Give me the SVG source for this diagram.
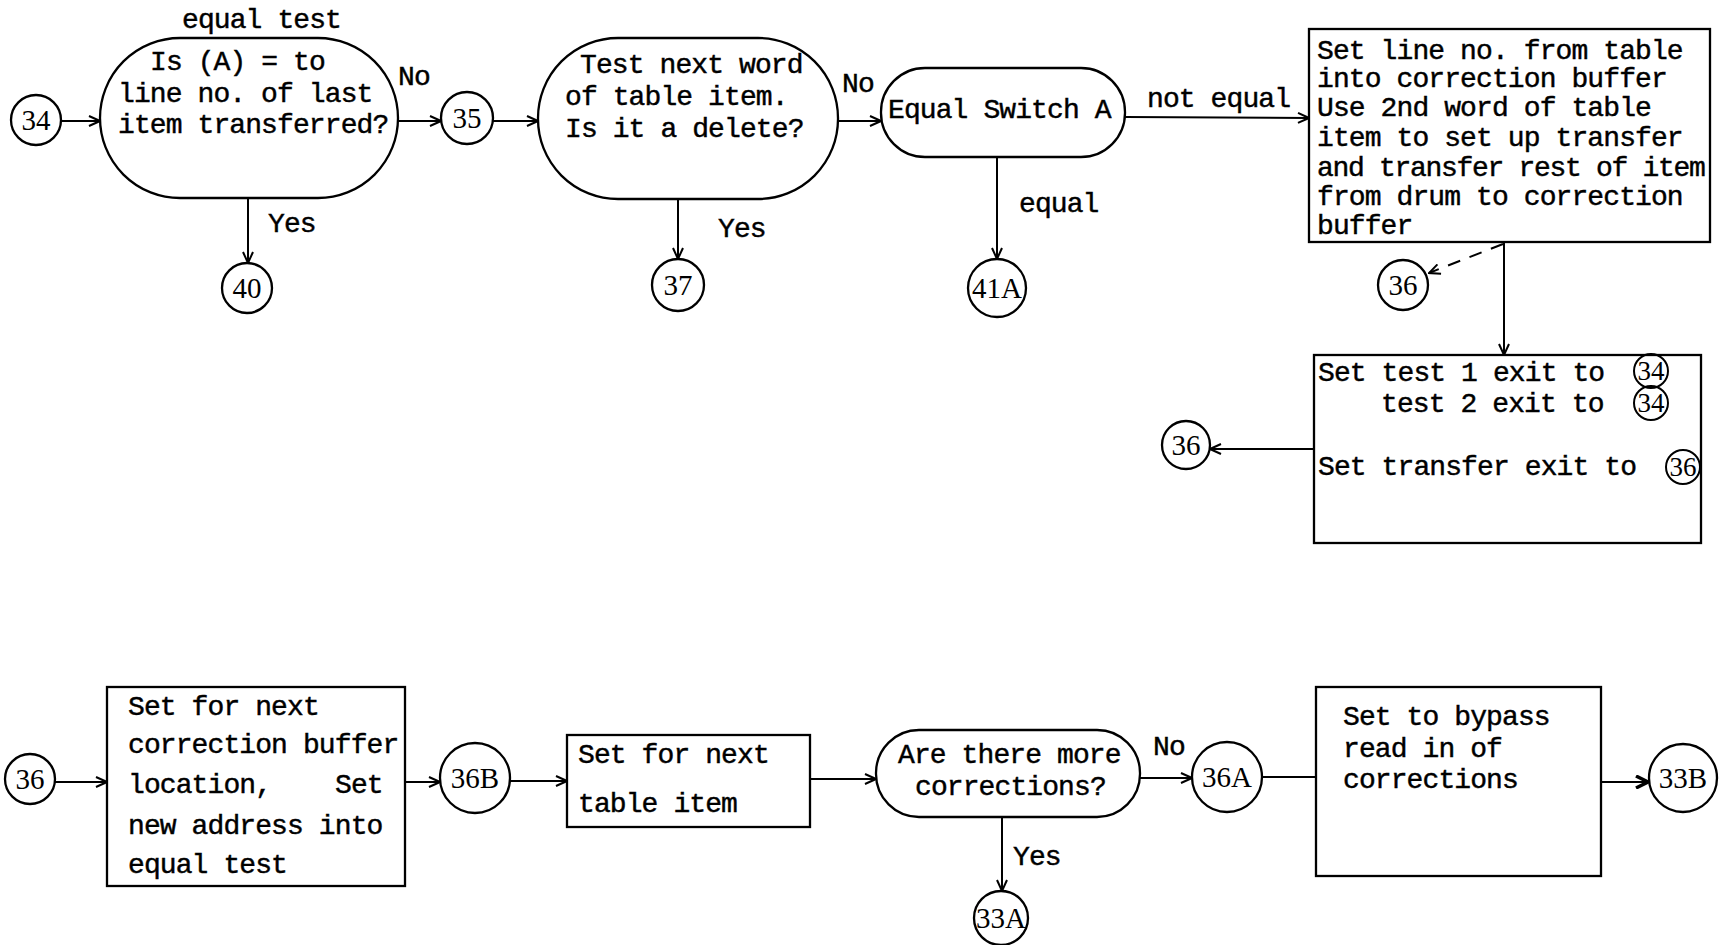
<svg xmlns="http://www.w3.org/2000/svg" width="1723" height="945" viewBox="0 0 1723 945">
<defs>
<style>
.s{fill:#fff;stroke:#000;stroke-width:2.3}
.l{fill:none;stroke:#000;stroke-width:2}
.t{font-family:"Liberation Mono","DejaVu Sans Mono",monospace;font-size:28px;letter-spacing:-0.9px;fill:#000;stroke:#000;stroke-width:0.45}
.c{font-family:"Liberation Serif","DejaVu Serif",serif;font-size:29px;fill:#000;text-anchor:middle}
.cs{font-family:"Liberation Serif","DejaVu Serif",serif;font-size:27px;fill:#000;text-anchor:middle}
</style>
<marker id="ah" viewBox="0 0 13 12" refX="12" refY="6" markerWidth="13" markerHeight="12" markerUnits="userSpaceOnUse" orient="auto">
<path d="M1,1 L12,6 L1,11" fill="none" stroke="#000" stroke-width="2"/>
</marker>
<marker id="ahb" viewBox="0 0 15 14" refX="13" refY="7" markerWidth="15" markerHeight="14" markerUnits="userSpaceOnUse" orient="auto">
<path d="M1,1 L13,7 L1,13" fill="none" stroke="#000" stroke-width="3.5"/>
</marker>
</defs>
<rect width="1723" height="945" fill="#fff"/>

<g id="connectors">
<line class="l" x1="61" y1="121" x2="100" y2="121" marker-end="url(#ah)"/>
<line class="l" x1="398" y1="121" x2="441" y2="121" marker-end="url(#ah)"/>
<line class="l" x1="248" y1="198" x2="248" y2="263" marker-end="url(#ah)"/>
<line class="l" x1="493" y1="121" x2="538" y2="121" marker-end="url(#ah)"/>
<line class="l" x1="838" y1="121" x2="881" y2="121" marker-end="url(#ah)"/>
<line class="l" x1="678" y1="199" x2="678" y2="259" marker-end="url(#ah)"/>
<line class="l" x1="1125" y1="117" x2="1309" y2="118" marker-end="url(#ah)"/>
<line class="l" x1="997" y1="157" x2="997" y2="259" marker-end="url(#ah)"/>
<line class="l" x1="1503" y1="244" x2="1429" y2="273" stroke-dasharray="13 10" marker-end="url(#ah)"/>
<line class="l" x1="1504" y1="242" x2="1504" y2="355" marker-end="url(#ah)"/>
<line class="l" x1="1314" y1="449" x2="1210" y2="449" marker-end="url(#ah)"/>
<line class="l" x1="55" y1="782" x2="107" y2="782" marker-end="url(#ah)"/>
<line class="l" x1="405" y1="782" x2="440" y2="782" marker-end="url(#ah)"/>
<line class="l" x1="510" y1="781" x2="567" y2="781" marker-end="url(#ah)"/>
<line class="l" x1="810" y1="779" x2="876" y2="779" marker-end="url(#ah)"/>
<line class="l" x1="1140" y1="778" x2="1192" y2="778" marker-end="url(#ah)"/>
<line class="l" x1="1002" y1="817" x2="1002" y2="891" marker-end="url(#ah)"/>
<line class="l" x1="1262" y1="777" x2="1316" y2="777"/>
<line class="l" x1="1601" y1="782" x2="1648" y2="782" marker-end="url(#ahb)"/>
<text class="t" x="398" y="85">No</text>
<text class="t" x="268" y="232">Yes</text>
<text class="t" x="842" y="92">No</text>
<text class="t" x="718" y="237">Yes</text>
<text class="t" x="1147" y="107">not equal</text>
<text class="t" x="1019" y="212">equal</text>
<text class="t" x="1153" y="755">No</text>
<text class="t" x="1013" y="865">Yes</text>
</g>

<g id="c34"><circle class="s" cx="36" cy="120" r="25"/><text class="c" x="36" y="130">34</text></g>
<g id="equal-test">
<rect class="s" x="100" y="38" width="298" height="160" rx="80" ry="80"/>
<text class="t" x="182" y="28">equal test</text>
<text class="t" x="150" y="70">Is (A) = to</text>
<text class="t" x="118" y="102">line no. of last</text>
<text class="t" x="118" y="133">item transferred?</text>
</g>
<g id="c40"><circle class="s" cx="247" cy="288" r="25"/><text class="c" x="247" y="298">40</text></g>
<g id="c35"><circle class="s" cx="467" cy="118" r="26"/><text class="c" x="467" y="128">35</text></g>
<g id="test-next">
<rect class="s" x="538" y="38" width="300" height="161" rx="80" ry="80"/>
<text class="t" x="580" y="73">Test next word</text>
<text class="t" x="565" y="105">of table item.</text>
<text class="t" x="565" y="137">Is it a delete?</text>
</g>
<g id="c37"><circle class="s" cx="678" cy="285" r="26"/><text class="c" x="678" y="295">37</text></g>
<g id="equal-switch">
<rect class="s" x="881" y="68" width="244" height="89" rx="44" ry="44"/>
<text class="t" x="888" y="118">Equal Switch A</text>
</g>
<g id="c41A"><circle class="s" cx="997" cy="288" r="29"/><text class="c" x="997" y="298">41A</text></g>
<g id="set-line">
<rect class="s" x="1309" y="29" width="401" height="213"/>
<text class="t" x="1317" y="59">Set line no. from table</text>
<text class="t" x="1317" y="87">into correction buffer</text>
<text class="t" x="1317" y="116">Use 2nd word of table</text>
<text class="t" x="1317" y="146">item to set up transfer</text>
<text class="t" x="1317" y="176" textLength="388" lengthAdjust="spacing">and transfer rest of item</text>
<text class="t" x="1317" y="205">from drum to correction</text>
<text class="t" x="1317" y="234">buffer</text>
</g>
<g id="c36-dash"><circle class="s" cx="1403" cy="285" r="25"/><text class="c" x="1403" y="295">36</text></g>
<g id="set-exits">
<rect class="s" x="1314" y="355" width="387" height="188"/>
<text class="t" x="1318" y="381">Set test 1 exit to</text>
<text class="t" x="1381" y="412">test 2 exit to</text>
<text class="t" x="1318" y="475">Set transfer exit to</text>
<circle class="l" cx="1651" cy="371" r="17"/><text class="cs" x="1651" y="380">34</text>
<circle class="l" cx="1651" cy="403" r="17"/><text class="cs" x="1651" y="412">34</text>
<circle class="l" cx="1683" cy="467" r="17"/><text class="cs" x="1683" y="476">36</text>
</g>
<g id="c36-left"><circle class="s" cx="1186" cy="445" r="24"/><text class="c" x="1186" y="455">36</text></g>

<g id="c36-bottom"><circle class="s" cx="30" cy="779" r="25"/><text class="c" x="30" y="789">36</text></g>
<g id="next-buffer">
<rect class="s" x="107" y="687" width="298" height="199"/>
<text class="t" x="128" y="715">Set for next</text>
<text class="t" x="128" y="753">correction buffer</text>
<text class="t" x="128" y="793">location,</text>
<text class="t" x="335" y="793">Set</text>
<text class="t" x="128" y="834">new address into</text>
<text class="t" x="128" y="873">equal test</text>
</g>
<g id="c36B"><circle class="s" cx="475" cy="778" r="35"/><text class="c" x="475" y="788">36B</text></g>
<g id="next-table">
<rect class="s" x="567" y="735" width="243" height="92"/>
<text class="t" x="578" y="763">Set for next</text>
<text class="t" x="578" y="812">table item</text>
</g>
<g id="more-corr">
<rect class="s" x="876" y="730" width="264" height="87" rx="43" ry="43"/>
<text class="t" x="898" y="763">Are there more</text>
<text class="t" x="915" y="795">corrections?</text>
</g>
<g id="c33A"><circle class="s" cx="1001" cy="918" r="27"/><text class="c" x="1001" y="928">33A</text></g>
<g id="c36A"><circle class="s" cx="1227" cy="777" r="35"/><text class="c" x="1227" y="787">36A</text></g>
<g id="bypass">
<rect class="s" x="1316" y="687" width="285" height="189"/>
<text class="t" x="1343" y="725">Set to bypass</text>
<text class="t" x="1343" y="757">read in of</text>
<text class="t" x="1343" y="788">corrections</text>
</g>
<g id="c33B"><circle class="s" cx="1683" cy="778" r="34"/><text class="c" x="1683" y="788">33B</text></g>
</svg>
